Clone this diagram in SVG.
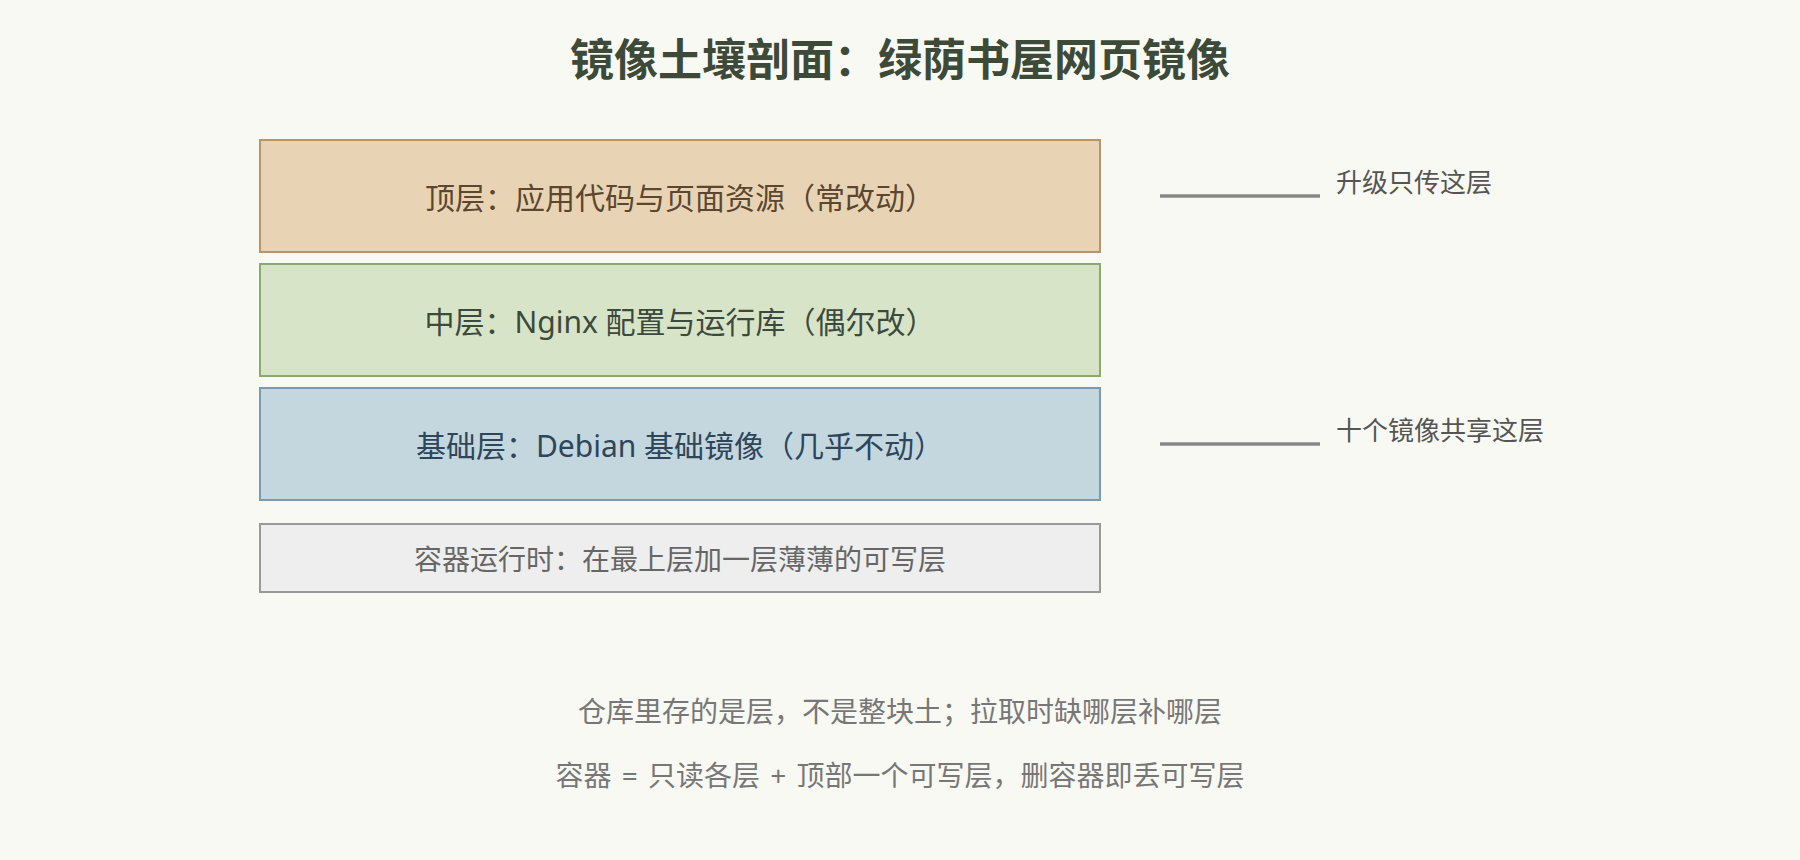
<svg xmlns="http://www.w3.org/2000/svg" width="1800" height="860" viewBox="0 0 1800 860">
  <style>
    text { font-family: "Noto Sans", "Noto Sans CJK SC", sans-serif; }
    .title { font-size: 44px; font-weight: bold; fill: #3d4a37; text-anchor: middle; }
    .layer { stroke-width: 2; }
    .lt { font-size: 30px; text-anchor: middle; }
    .side { font-size: 26px; fill: #555555; }
    .note { font-size: 28px; fill: #777777; text-anchor: middle; }
    .lead { stroke: #888888; stroke-width: 3.5; fill: none; }
  </style>
  <rect x="0" y="0" width="1800" height="860" fill="#f9f9f4"/>
  <text class="title" x="900" y="76">镜像土壤剖面：绿荫书屋网页镜像</text>

  <g id="layer-top">
    <rect class="layer" x="260" y="140" width="840" height="112" fill="#e8d4b4" stroke="#b8946a"/>
    <text class="lt" x="680" y="209" fill="#5b4630">顶层：应用代码与页面资源（常改动）</text>
  </g>
  <g id="layer-middle">
    <rect class="layer" x="260" y="264" width="840" height="112" fill="#d8e4c8" stroke="#8aab6c"/>
    <text class="lt" x="680" y="333" fill="#3b4a3c">中层：Nginx 配置与运行库（偶尔改）</text>
  </g>
  <g id="layer-base">
    <rect class="layer" x="260" y="388" width="840" height="112" fill="#c4d7df" stroke="#7b9bb2"/>
    <text class="lt" x="680" y="457" fill="#2f465a">基础层：Debian 基础镜像（几乎不动）</text>
  </g>
  <g id="layer-writable">
    <rect class="layer" x="260" y="524" width="840" height="68" fill="#eeeeee" stroke="#999999"/>
    <text x="680" y="570" font-size="28" text-anchor="middle" fill="#666666">容器运行时：在最上层加一层薄薄的可写层</text>
  </g>

  <g id="connectors">
    <line class="lead" x1="1160" y1="196" x2="1320" y2="196"/>
    <line class="lead" x1="1160" y1="444" x2="1320" y2="444"/>
  </g>
  <g id="label-upgrade">
    <text class="side" x="1336" y="192">升级只传这层</text>
  </g>
  <g id="label-shared">
    <text class="side" x="1336" y="440">十个镜像共享这层</text>
  </g>

  <g id="notes">
    <text class="note" x="900" y="722">仓库里存的是层，不是整块土；拉取时缺哪层补哪层</text>
    <text class="note" x="900" y="786" word-spacing="3">容器 = 只读各层 + 顶部一个可写层，删容器即丢可写层</text>
  </g>
</svg>
